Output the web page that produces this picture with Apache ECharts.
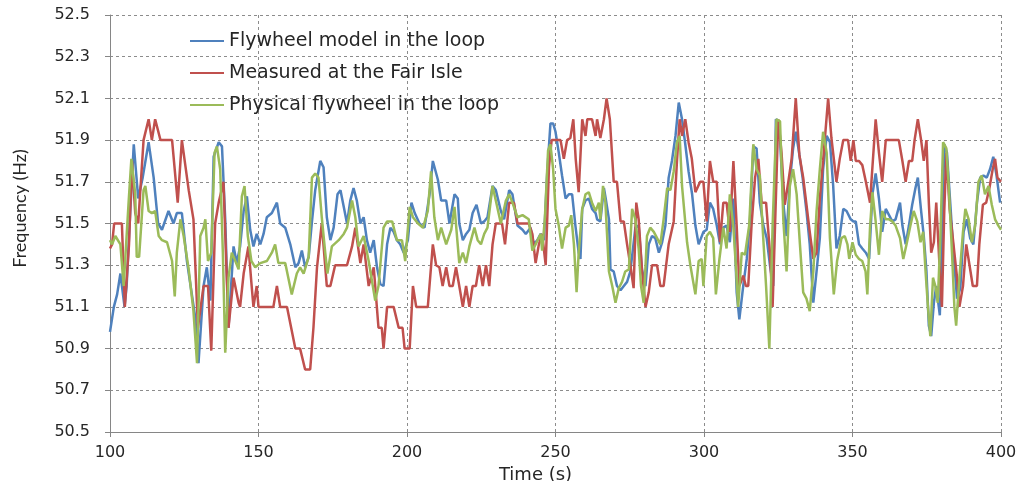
<!DOCTYPE html>
<html>
<head>
<meta charset="utf-8">
<script src="https://cdn.jsdelivr.net/npm/echarts@6/dist/echarts.min.js"></script>
<style>
html,body{margin:0;padding:0;background:#fff;overflow:hidden;}
#chart{width:1017px;height:481px;}
</style>
</head>
<body>
<div id="chart"></div>
<script>
const seriesNames = ['Flywheel model in the loop', 'Measured at the Fair Isle', 'Physical flywheel in the loop'];
const xTicks = [100, 150, 200, 250, 300, 350, 400];
const yTicks = [50.5, 50.7, 50.9, 51.1, 51.3, 51.5, 51.7, 51.9, 52.1, 52.3, 52.5];

const flywheelModel = [
[100,50.98],[101.3,51.1],[102.4,51.16],[103.5,51.26],[104.9,51.1],[105.6,51.2],[106.8,51.55],[108,51.88],[109.5,51.62],[111,51.72],[113,51.89],[114.7,51.72],[116.2,51.5],[117.5,51.47],[119.7,51.56],[121.4,51.5],[122.5,51.55],[124.2,51.55],[125.9,51.32],[128.7,51.05],[129.8,50.83],[131.5,51.2],[132.6,51.29],[133.8,51.13],[134.9,51.82],[136.6,51.89],[137.7,51.87],[138.8,51.52],[139.9,51.0],[141.6,51.39],[142.7,51.31],[143.8,51.39],[145,51.56],[146.1,51.63],[147.2,51.47],[148.3,51.39],[149.4,51.45],[150.6,51.40],[151.7,51.45],[152.8,51.53],[154.5,51.55],[156.2,51.6],[157.3,51.5],[159,51.48],[160.7,51.4],[162.4,51.29],[163.5,51.31],[164.6,51.37],[165.7,51.29],[166.9,51.34],[168,51.51],[169.1,51.66],[170.8,51.80],[171.9,51.77],[173,51.53],[174.2,51.42],[175.3,51.48],[176.6,51.64],[177.6,51.66],[178.7,51.58],[179.8,51.50],[180.9,51.61],[182,51.67],[183.1,51.61],[184.3,51.5],[185.4,51.53],[186.5,51.42],[187.6,51.36],[188.8,51.42],[189.9,51.29],[191,51.21],[192.1,51.2],[193.3,51.4],[194.4,51.48],[195.5,51.46],[196.6,51.42],[197.7,51.4],[198.9,51.36],[200.3,51.42],[201.5,51.6],[202.6,51.55],[204.2,51.5],[205.9,51.48],[207.6,51.64],[208.7,51.80],[210.4,51.71],[211.5,51.61],[213.2,51.61],[214.3,51.5],[216,51.64],[217.1,51.62],[217.6,51.5],[218.8,51.42],[219.9,51.45],[221,51.47],[222.1,51.55],[223.4,51.59],[224.9,51.5],[226,51.51],[227.1,51.53],[228.8,51.68],[229.9,51.66],[231.6,51.56],[232.7,51.52],[234.4,51.66],[235.5,51.64],[237.2,51.49],[238.9,51.47],[240,51.45],[241.6,51.48],[242.7,51.4],[243.9,51.42],[245,51.45],[246.1,51.42],[247.2,51.74],[248.3,51.98],[249.2,51.98],[250,51.94],[251.1,51.84],[252.2,51.73],[253.4,51.62],[254.5,51.64],[255.6,51.64],[256.7,51.49],[257.8,51.36],[258.4,51.33],[259,51.57],[260.1,51.61],[261.2,51.62],[262.3,51.57],[263.5,51.55],[264,51.52],[265.1,51.51],[266.3,51.67],[266.9,51.62],[268,51.52],[268.5,51.28],[269.6,51.27],[270.7,51.2],[271.9,51.18],[273,51.2],[274.1,51.22],[275.2,51.27],[276.9,51.48],[278,51.49],[279.1,51.28],[280.3,51.2],[281.4,51.4],[282.5,51.44],[283.6,51.43],[284.8,51.36],[285.9,51.41],[287,51.49],[288.1,51.72],[289.2,51.8],[290.4,51.92],[291.5,52.08],[292.6,52.0],[293.7,51.88],[294.8,51.75],[296,51.64],[297.1,51.49],[298.2,51.4],[299.8,51.46],[300.9,51.47],[302,51.6],[303.1,51.57],[304.3,51.49],[305.4,51.4],[306.5,51.48],[307.6,51.49],[308.7,51.41],[309.9,51.62],[311,51.17],[311.9,51.04],[313.2,51.2],[314.4,51.33],[315.5,51.52],[316.6,51.87],[317.7,51.86],[318.8,51.6],[320,51.49],[321.1,51.43],[322.2,51.3],[323.3,51.2],[324.2,52.0],[325.3,51.99],[326.7,51.6],[327.8,51.44],[328.9,51.7],[330,51.86],[330.9,51.94],[332,51.84],[333.2,51.72],[334.5,51.56],[335.6,51.4],[336.8,51.12],[337.9,51.27],[339,51.43],[340.1,51.76],[341.3,51.92],[342.4,51.89],[343.5,51.68],[344.6,51.38],[345.7,51.44],[346.9,51.57],[348,51.56],[349.4,51.52],[350.3,51.51],[351.1,51.51],[352.2,51.4],[353.3,51.38],[354.5,51.36],[355.6,51.33],[356.7,51.64],[357.8,51.74],[358.9,51.62],[360,51.46],[361.2,51.57],[362.3,51.54],[363.4,51.51],[364.5,51.52],[366,51.6],[366.8,51.49],[367.9,51.4],[369,51.49],[370.1,51.59],[371.2,51.67],[372,51.72],[373.1,51.56],[374,51.44],[374.9,51.27],[375.7,51.01],[376.5,50.96],[377.4,51.12],[378.2,51.2],[379.4,51.06],[380.1,51.41],[380.9,51.88],[381.8,51.84],[382.9,51.6],[384,51.36],[385.2,51.14],[386.3,51.19],[387.4,51.46],[388.5,51.52],[389.6,51.43],[390.7,51.4],[391.9,51.6],[393,51.72],[394.1,51.73],[395.2,51.72],[396.3,51.76],[397.4,51.82],[398.5,51.73],[399.7,51.6]
];

const measuredFairIsle = [
[100,51.38],[100.7,51.4],[101.4,51.5],[104,51.5],[105,51.1],[106.4,51.4],[107.4,51.8],[108.5,51.55],[109.5,51.5],[111.3,51.9],[113,52.0],[114.1,51.9],[115.2,52.0],[117,51.9],[120.9,51.9],[122.8,51.6],[124.2,51.9],[124.8,51.9],[126.5,51.66],[128.1,51.52],[129.6,51.0],[131.5,51.2],[133,51.2],[134.1,50.89],[135.4,51.5],[136.6,51.6],[138.2,51.7],[139.9,51.0],[141.6,51.24],[143.3,51.12],[143.8,51.1],[145,51.26],[146.6,51.39],[147.7,51.2],[148.3,51.1],[149.4,51.2],[150,51.1],[155,51.1],[156.2,51.2],[157.3,51.1],[159.6,51.1],[162.4,50.9],[164,50.9],[165.7,50.8],[167.4,50.8],[168.5,51.0],[169.7,51.29],[171.3,51.5],[173,51.2],[174.2,51.2],[175.8,51.3],[179.8,51.3],[181.5,51.39],[182.6,51.48],[184.3,51.31],[185.4,51.4],[187.1,51.2],[188.8,51.29],[190.4,51.0],[191.5,51.0],[192.1,50.9],[193.3,51.1],[195.5,51.1],[197.2,51.0],[198.5,51.0],[199.2,50.9],[200.9,50.9],[202,51.2],[203.1,51.1],[207,51.1],[208.7,51.4],[209.8,51.3],[210.9,51.29],[212,51.2],[213.2,51.29],[214.3,51.2],[215.4,51.2],[216.5,51.29],[217.6,51.2],[218.8,51.1],[219.9,51.2],[221,51.1],[222.1,51.2],[223.2,51.2],[224.3,51.3],[225.5,51.2],[226.6,51.3],[227.7,51.2],[228.8,51.4],[229.9,51.5],[232,51.5],[233,51.4],[234.4,51.6],[236,51.6],[237.2,51.5],[241,51.5],[242.2,51.45],[243.3,51.31],[244.4,51.4],[245.5,51.45],[246.7,51.3],[247.8,51.77],[248.7,51.9],[251.7,51.9],[252.8,51.81],[253.9,51.9],[255,51.91],[256,52.0],[256.8,51.81],[257.8,51.65],[259,52.0],[260.1,51.92],[260.7,52.0],[262.3,52.0],[263.5,51.92],[264,52.0],[265.1,51.91],[266.3,52.0],[267.2,52.1],[268.3,52.0],[269.6,51.7],[270.7,51.7],[271.9,51.51],[273,51.51],[274.1,51.4],[275.2,51.3],[276.3,51.19],[277.2,51.6],[278,51.52],[279.1,51.28],[280.3,51.1],[281.4,51.17],[282.5,51.3],[284.2,51.3],[285.3,51.2],[286.4,51.2],[288.1,51.4],[289.8,51.51],[290.9,51.8],[291.8,52.0],[292.6,51.92],[293.7,52.0],[294.8,51.89],[295.9,51.81],[297.1,51.65],[298.7,51.7],[299.8,51.7],[300.9,51.51],[302,51.8],[303.1,51.7],[304.3,51.7],[305.4,51.41],[306.5,51.6],[307.6,51.6],[308.7,51.46],[309.9,51.8],[311,51.49],[311.9,51.2],[313.2,51.25],[314.1,51.2],[314.9,51.2],[316,51.49],[317.2,51.72],[318.3,51.81],[319.4,51.6],[320.9,51.6],[322.2,51.36],[323.1,51.1],[323.9,51.48],[325,52.0],[326.1,51.84],[327.2,51.59],[328.4,51.7],[329.5,51.81],[330.9,52.1],[332.1,51.83],[333.4,51.72],[334.5,51.59],[335.6,51.46],[336.8,51.33],[337.9,51.36],[339,51.62],[340.1,51.8],[341,51.96],[341.8,52.1],[342.9,51.91],[344.6,51.7],[345.7,51.81],[346.9,51.9],[348.5,51.9],[349.4,51.8],[350.3,51.9],[351.1,51.8],[352.2,51.8],[353.3,51.78],[354.5,51.7],[355.9,51.6],[357.8,52.0],[358.9,51.84],[360,51.7],[361.2,51.9],[365.6,51.9],[366.8,51.8],[367.9,51.7],[369,51.8],[370.1,51.8],[370.9,51.9],[372,52.0],[373.1,51.9],[374,51.8],[374.9,51.9],[375.7,51.6],[376.5,51.36],[377.4,51.41],[378.2,51.6],[379.4,51.27],[380.1,51.1],[380.9,51.56],[381.6,51.84],[382.7,51.57],[384,51.4],[385.2,51.24],[386,51.1],[387.2,51.2],[388.3,51.4],[389.4,51.3],[390.5,51.2],[391.9,51.2],[392.7,51.4],[393.9,51.59],[395,51.6],[396.1,51.67],[397.2,51.76],[398,51.81],[398.8,51.72],[400,51.7]
];

const physicalFlywheel = [
[100,51.42],[100.7,51.40],[101.8,51.44],[103.5,51.4],[104.6,51.2],[106.3,51.61],[107.2,51.81],[108.5,51.64],[109,51.34],[109.8,51.34],[111.3,51.66],[111.9,51.68],[113,51.56],[114.1,51.55],[115.2,51.56],[116.4,51.44],[117.5,51.42],[119.2,51.41],[120.9,51.32],[121.8,51.15],[122.5,51.36],[123.7,51.52],[124.8,51.44],[126.5,51.28],[128.1,51.08],[129.3,50.83],[130.4,51.44],[131.5,51.48],[132.1,51.52],[133,51.32],[134.1,51.36],[135.2,51.84],[136,51.87],[137.1,51.76],[138,51.36],[138.8,50.88],[139.9,51.24],[141,51.36],[142.2,51.32],[143.3,51.28],[144.4,51.63],[145.3,51.68],[146.4,51.44],[147.6,51.32],[148.9,51.29],[150.6,51.31],[152.8,51.32],[154.5,51.36],[155.6,51.40],[156.7,51.31],[159,51.31],[161.2,51.16],[162.9,51.26],[164,51.29],[165.2,51.26],[166.9,51.34],[168,51.72],[169.1,51.74],[170.2,51.72],[171.3,51.53],[172.4,51.37],[173.2,51.26],[174.7,51.39],[177,51.42],[178.7,51.45],[179.8,51.48],[181.5,51.61],[182.6,51.53],[183.7,51.39],[185.4,51.44],[187.1,51.32],[189.3,51.13],[190.4,51.2],[192.1,51.48],[193.3,51.51],[195,51.51],[196.6,51.42],[198.3,51.42],[199.4,51.32],[200.9,51.58],[202,51.53],[203.7,51.5],[205.4,51.48],[207,51.56],[208.1,51.75],[209.2,51.53],[210.4,51.42],[211.5,51.48],[213.2,51.4],[214.9,51.47],[216,51.58],[217.6,51.31],[218.8,51.36],[219.9,51.31],[221,51.39],[222.7,51.48],[223.8,51.42],[224.9,51.4],[226,51.45],[227.1,51.48],[228.8,51.68],[229.9,51.61],[231.6,51.5],[233.3,51.61],[234.4,51.64],[235.5,51.6],[237.2,51.53],[238.9,51.54],[241,51.52],[242.2,51.37],[243.3,51.4],[245,51.45],[245.5,51.37],[246.4,51.52],[247.5,51.85],[248.3,51.88],[249.2,51.76],[250,51.57],[251.1,51.49],[252.2,51.38],[253.4,51.48],[254.5,51.49],[255.3,51.54],[256.2,51.4],[257.1,51.17],[257.8,51.36],[259,51.57],[260.1,51.64],[261.2,51.65],[262.3,51.6],[263.5,51.56],[264.6,51.6],[265.1,51.52],[266,51.68],[266.8,51.6],[268,51.27],[269.1,51.2],[270.2,51.12],[271.3,51.19],[272.4,51.22],[273.5,51.27],[274.7,51.28],[275.8,51.57],[276.9,51.52],[278,51.38],[278.8,51.2],[279.7,51.12],[280.8,51.44],[281.9,51.48],[283.1,51.46],[284.2,51.43],[285.3,51.4],[286.4,51.52],[287.6,51.67],[288.7,51.66],[289.8,51.75],[290.9,51.89],[291.8,51.92],[292.6,51.68],[294.3,51.41],[295.4,51.3],[297.1,51.16],[298.2,51.32],[299.2,51.33],[299.8,51.2],[300.9,51.44],[302,51.46],[303.1,51.43],[304,51.16],[305.2,51.33],[306.5,51.48],[307.6,51.38],[308.7,51.64],[309.9,51.48],[310.8,51.28],[311.5,51.1],[312.7,51.36],[313.8,51.35],[315.2,51.49],[316.6,51.88],[317.7,51.76],[318.8,51.73],[319.7,51.49],[320.9,51.2],[322,50.9],[323.1,51.49],[324.4,52.0],[325.6,51.99],[326.7,51.52],[327.8,51.27],[328.9,51.68],[330,51.76],[331.2,51.64],[332.3,51.4],[333.4,51.17],[334.5,51.14],[335.6,51.08],[336.8,51.27],[337.9,51.56],[339,51.76],[340.1,51.94],[341.3,51.84],[342.4,51.43],[343.7,51.16],[344.8,51.32],[346.3,51.43],[347.4,51.44],[348.3,51.4],[348.9,51.33],[350,51.41],[351.1,51.35],[352.2,51.33],[353.3,51.32],[354.4,51.27],[355,51.16],[355.9,51.48],[356.7,51.65],[357.8,51.51],[358.9,51.35],[360,51.56],[361.2,51.52],[362.3,51.52],[363.4,51.51],[364.5,51.49],[366,51.43],[367.1,51.33],[368.2,51.4],[369.5,51.49],[370.6,51.56],[371.8,51.51],[372.9,51.41],[373.8,51.46],[374.6,51.27],[375.4,51.1],[376.2,50.96],[377.1,51.24],[377.9,51.2],[378.7,51.12],[379.6,51.44],[380.5,51.89],[381.6,51.86],[382.4,51.68],[383.5,51.36],[384.3,51.1],[384.9,51.01],[386,51.24],[387.2,51.46],[388,51.57],[389.1,51.52],[390.2,51.41],[391.3,51.49],[392.4,51.7],[393.5,51.73],[394.6,51.64],[395.8,51.68],[396.9,51.59],[398,51.52],[399.1,51.49],[400,51.47]
];

const colors = ['#4F81BD', '#C0504D', '#9BBB59'];
const dataSets = [flywheelModel, measuredFairIsle, physicalFlywheel];
const WIDE = '"DejaVu Sans", Verdana, sans-serif';
const NARROW = 'Lato, "Open Sans", sans-serif';
const TEXT = '#262626';

const chart = echarts.init(document.getElementById('chart'), null, {renderer: 'canvas'});
chart.setOption({
  animation: false,
  backgroundColor: '#ffffff',
  color: colors,
  grid: {left: 110, right: 16, top: 15, bottom: 49, containLabel: false, outerBoundsMode: 'none'},
  legend: {
    orient: 'vertical',
    left: 190,
    top: 30,
    padding: 0,
    itemWidth: 34,
    itemHeight: 2,
    itemGap: 10,
    icon: 'rect',
    textStyle: {fontFamily: WIDE, fontSize: 19, color: TEXT, lineHeight: 22},
    data: seriesNames
  },
  xAxis: {
    type: 'value',
    min: xTicks[0], max: xTicks[xTicks.length - 1], interval: 50,
    name: 'Time (s)',
    nameLocation: 'middle',
    nameGap: 28,
    nameTextStyle: {fontFamily: WIDE, fontSize: 18, color: TEXT, padding: [0, 40, 0, 0]},
    axisLine: {show: true, lineStyle: {color: '#868686', width: 1}},
    axisTick: {show: true, length: 5, inside: false, lineStyle: {color: '#868686'}},
    axisLabel: {fontFamily: WIDE, fontSize: 16, color: TEXT, margin: 13},
    splitLine: {show: true, lineStyle: {color: '#8c8c8c', type: [3,3], width: 1}}
  },
  yAxis: {
    type: 'value',
    min: yTicks[0], max: yTicks[yTicks.length - 1], interval: 0.2,
    name: 'Frequency (Hz)',
    nameLocation: 'middle',
    nameGap: 81,
    nameRotate: 90,
    nameTextStyle: {fontFamily: NARROW, fontSize: 18, color: TEXT, padding: [0, 0, 0, 30]},
    axisLine: {show: true, lineStyle: {color: '#868686', width: 1}},
    axisTick: {show: true, length: 5, inside: false, lineStyle: {color: '#868686'}},
    axisLabel: {fontFamily: WIDE, fontSize: 16, color: TEXT, margin: 20, formatter: v => v.toFixed(1)},
    splitLine: {show: true, lineStyle: {color: '#8c8c8c', type: [3,3], width: 1}}
  },
  series: dataSets.map((d, i) => ({
    name: seriesNames[i],
    type: 'line',
    data: d,
    showSymbol: false,
    symbol: 'none',
    smooth: false,
    lineStyle: {width: 2.5, color: colors[i]},
    itemStyle: {color: colors[i]},
    z: 2 + i
  }))
});
</script>
</body>
</html>
